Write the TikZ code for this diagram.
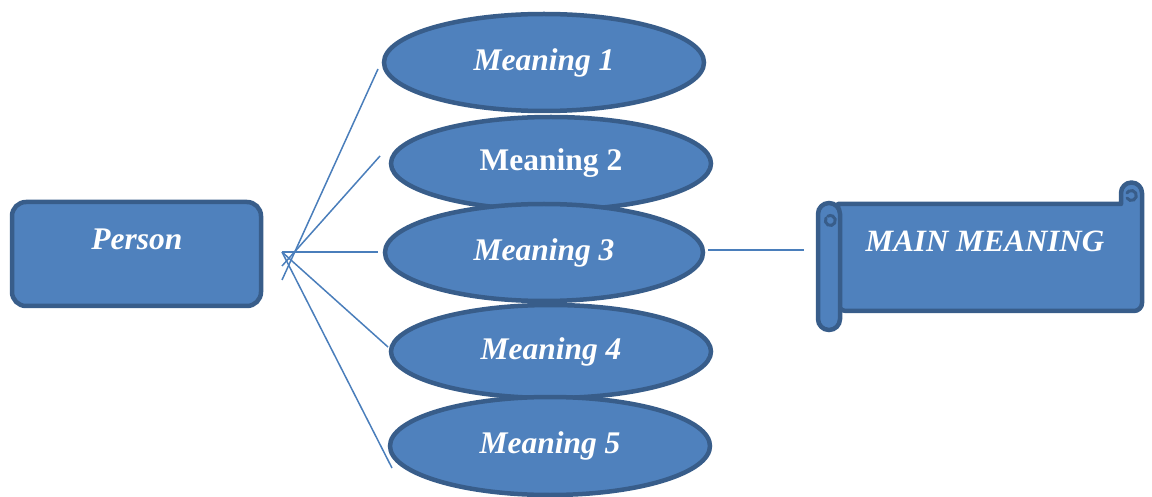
\documentclass[tikz,border=0pt]{standalone}
\usepackage{fontspec}
\setmainfont{Liberation Serif}
\usetikzlibrary{shapes.geometric}
\definecolor{fillblue}{HTML}{4F81BD}
\definecolor{edgeblue}{HTML}{385D8A}
\definecolor{lineblue}{HTML}{4A7EBB}
\begin{document}
\begin{tikzpicture}[x=1pt,y=-1pt,
  shapestyle/.style={fill=fillblue,draw=edgeblue,line width=4.5pt},
  meaning/.style={shapestyle,ellipse,inner sep=0pt,text=white,font=\fontsize{31.5}{36}\selectfont\bfseries\itshape},
  lbl/.style={text=white,inner sep=0pt,font=\fontsize{31.5}{36}\selectfont\bfseries\itshape},
  conn/.style={draw=lineblue,line width=1.5pt}]
\useasboundingbox (0,0) rectangle (1152,497);
% person box
\node[shapestyle,rounded corners=14pt,minimum width=249pt,minimum height=104pt,inner sep=0pt] (person) at (136.5,254) {};
\node[lbl] (personlbl) at (137,239) {Person};
% ellipses
\node[meaning,minimum width=320pt,minimum height=97pt] (m1) at (544,62.5) {Meaning 1};
\node[meaning,minimum width=320pt,minimum height=93pt,font=\fontsize{31.5}{36}\selectfont\bfseries] (m2) at (551,163.5) {Meaning 2};
\node[meaning,minimum width=318pt,minimum height=97pt] (m3) at (544,252.5) {Meaning 3};
\node[meaning,minimum width=320pt,minimum height=93pt] (m4) at (551,351.5) {Meaning 4};
\node[meaning,minimum width=320pt,minimum height=98pt] (m5) at (550,446) {Meaning 5};
% connector end points
\coordinate (h1) at (282,280);
\coordinate (h2) at (282,266);
\coordinate (h3) at (282,252);
\coordinate (e1) at (378,69);
\coordinate (e2) at (380,156);
\coordinate (e3) at (378,252);
\coordinate (e4) at (388,347);
\coordinate (e5) at (392,468);
\coordinate (s1) at (708,250);
\coordinate (s2) at (804,250);
\draw[conn] (h1) -- (e1);
\draw[conn] (h2) -- (e2);
\draw[conn] (h3) -- (e3);
\draw[conn] (h3) -- (e4);
\draw[conn] (h3) -- (e5);
\draw[conn] (s1) -- (s2);
% scroll
\draw[shapestyle,line join=round] (838,204) -- (1121,204) -- (1121,193) arc[start angle=180,end angle=360,radius=10.5]
  [rounded corners=8pt] -- (1142,311) -- (838,311) [sharp corners] -- cycle;
\draw[edgeblue,line width=3pt,line cap=round] (1127,198) arc[start angle=150,end angle=-150,radius=5];
\draw[shapestyle,rounded corners=11pt] (818,203) rectangle (840,330);
\draw[edgeblue,line width=3pt,line cap=round] (826,218) arc[start angle=210,end angle=-120,radius=5];
\node[lbl,font=\fontsize{31}{36}\selectfont\bfseries\itshape] (mainlbl) at (985,241) {MAIN MEANING};
\end{tikzpicture}
\end{document}
